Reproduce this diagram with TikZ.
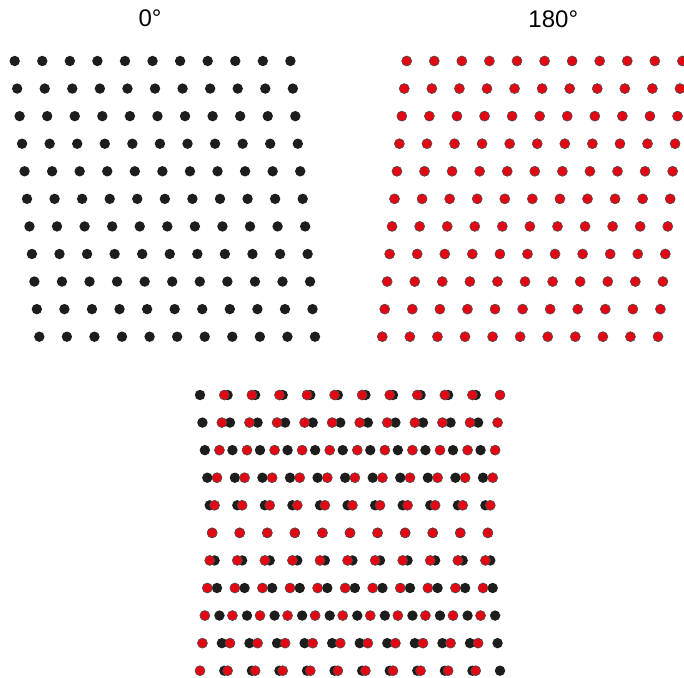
\documentclass[tikz,border=0pt]{standalone}
\usepackage{fontspec}
\setmainfont{Liberation Sans}
\definecolor{dotred}{RGB}{227,6,19}
\definecolor{dotblack}{RGB}{29,29,27}
\begin{document}
\begin{tikzpicture}[x=1pt,y=-1pt,
  blackdot/.style={fill=dotblack},
  reddot/.style={fill=dotred,draw=black!70,line width=0.6pt},
  title/.style={font=\fontsize{24}{28}\selectfont, anchor=base, inner sep=0pt}]
\useasboundingbox (0,0) rectangle (684,677);
\clip (0,0) rectangle (684,677);
\node[title] (t0) at (150,27) {0°};
\node[title] (t180) at (553.3,27.3) {180°};
% 0 degree grid (black)
\foreach \j in {0,...,10}{
  \foreach \i in {0,...,10}{
    \fill[blackdot] ({14.7+27.57*\i+2.46*\j},{61+27.57*\j}) circle (5.2pt);
  }
}
% 180 degree grid (red)
\foreach \j in {0,...,10}{
  \foreach \i in {0,...,10}{
    \filldraw[reddot] ({406.7+27.57*\i-2.44*\j},{61+27.57*\j}) circle (5pt);
  }
}
% overlay
\foreach \j in {0,...,10}{
  \foreach \i in {0,...,10}{
    \fill[blackdot] ({200+27.57*\i+2.43*\j},{395+27.57*\j}) circle (5.2pt);
  }
  \foreach \i in {0,...,10}{
    \filldraw[reddot] ({224.3+27.57*\i-2.43*\j},{395+27.57*\j}) circle (5pt);
  }
}
\end{tikzpicture}
\end{document}
